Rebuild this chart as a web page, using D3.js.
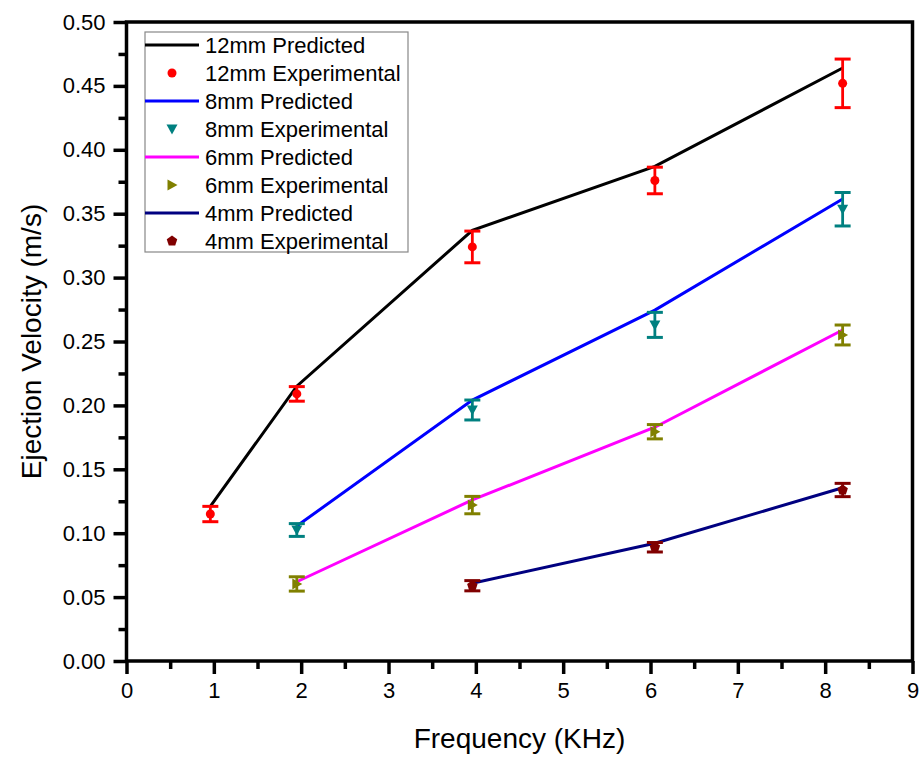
<!DOCTYPE html>
<html><head><meta charset="utf-8">
<script src="https://cdn.jsdelivr.net/npm/d3@7"></script>
<style>body{margin:0;background:#fff}svg{display:block}text{font-family:Arial,"Liberation Sans",sans-serif}</style>
</head><body>
<script>
// Data
const freq = [0.96, 1.95, 3.96, 6.05, 8.2];
const pred12 = [0.121, 0.215, 0.337, 0.387, 0.464];
const exp12 = [0.115, 0.209, 0.324, 0.376, 0.452];
const err12 = [0.006, 0.0057, 0.0124, 0.0104, 0.019];
const freq8 = [1.95, 3.96, 6.05, 8.2];
const pred8 = [0.1056, 0.2042, 0.2746, 0.3615];
const exp8 = [0.1025, 0.1964, 0.263, 0.3535];
const err8 = [0.005, 0.0078, 0.0098, 0.0131];
const freq6 = [1.95, 3.96, 6.05, 8.2];
const pred6 = [0.062, 0.126, 0.1829, 0.259];
const exp6 = [0.0603, 0.122, 0.1794, 0.2551];
const err6 = [0.0056, 0.0068, 0.0056, 0.0078];
const freq4 = [3.96, 6.05, 8.2];
const pred4 = [0.0608, 0.0921, 0.1356];
const exp4 = [0.0589, 0.089, 0.1338];
const err4 = [0.004, 0.0037, 0.0052];
const xTicks = [0,1,2,3,4,5,6,7,8,9];
const yTicks = [0,0.05,0.10,0.15,0.20,0.25,0.30,0.35,0.40,0.45,0.50];
const legendLabels = ["12mm Predicted","12mm Experimental","8mm Predicted","8mm Experimental","6mm Predicted","6mm Experimental","4mm Predicted","4mm Experimental"];

const W = 922, H = 759;
const L = 126.5, R = 912.5, T = 22, B = 661;
const svg = d3.select("body").append("svg").attr("width", W).attr("height", H);
const x = d3.scaleLinear().domain([0, 9]).range([L, R]);
const y = d3.scaleLinear().domain([0, 0.5]).range([B, T]);

const series = [
  {fx: freq, pred: pred12, exp: exp12, err: err12, lc: "#000000", mc: "#ff0000", sym: "circle"},
  {fx: freq8, pred: pred8, exp: exp8, err: err8, lc: "#0000ff", mc: "#008080", sym: "down"},
  {fx: freq6, pred: pred6, exp: exp6, err: err6, lc: "#ff00ff", mc: "#808000", sym: "right"},
  {fx: freq4, pred: pred4, exp: exp4, err: err4, lc: "#000080", mc: "#800000", sym: "pent"},
];

function marker(g, sym, cx, cy, c) {
  if (sym === "circle") {
    g.append("circle").attr("cx", cx).attr("cy", cy).attr("r", 4.5).attr("fill", c);
  } else if (sym === "down") {
    g.append("path").attr("d", `M${cx-5.5},${cy-4.5}L${cx+5.5},${cy-4.5}L${cx},${cy+5.5}Z`).attr("fill", c);
  } else if (sym === "right") {
    g.append("path").attr("d", `M${cx-4.5},${cy-5.5}L${cx+5.5},${cy}L${cx-4.5},${cy+5.5}Z`).attr("fill", c);
  } else {
    const pts = d3.range(5).map(i => {
      const a = -Math.PI/2 + i*2*Math.PI/5;
      return [cx + 5.5*Math.cos(a), cy + 5.5*Math.sin(a)];
    });
    g.append("path").attr("d", "M" + pts.map(p => p.join(",")).join("L") + "Z").attr("fill", c);
  }
}

const line = d3.line().x(d => x(d[0])).y(d => y(d[1]));
const plot = svg.append("g");
series.forEach(s => {
  plot.append("path").datum(s.fx.map((f, i) => [f, s.pred[i]]))
    .attr("d", line).attr("fill", "none").attr("stroke", s.lc).attr("stroke-width", 3);
});
series.forEach(s => {
  s.fx.forEach((f, i) => {
    const cx = x(f), y1 = y(s.exp[i] + s.err[i]), y2 = y(s.exp[i] - s.err[i]);
    const g = plot.append("g");
    g.append("line").attr("x1", cx).attr("x2", cx).attr("y1", y1).attr("y2", y2).attr("stroke", s.mc).attr("stroke-width", 2.8);
    g.append("line").attr("x1", cx-8).attr("x2", cx+8).attr("y1", y1).attr("y2", y1).attr("stroke", s.mc).attr("stroke-width", 3);
    g.append("line").attr("x1", cx-8).attr("x2", cx+8).attr("y1", y2).attr("y2", y2).attr("stroke", s.mc).attr("stroke-width", 3);
    marker(g, s.sym, cx, y(s.exp[i]), s.mc);
  });
});

// Axes
const xAx = svg.append("g").attr("transform", `translate(0,${B})`)
  .call(d3.axisBottom(x).tickValues(xTicks).tickFormat(d3.format("d")).tickSize(13).tickPadding(8));
const xMin = svg.append("g").attr("transform", `translate(0,${B})`)
  .call(d3.axisBottom(x).tickValues(d3.range(0.5, 9, 1)).tickSize(8).tickFormat(""));
const yAx = svg.append("g").attr("transform", `translate(${L},0)`)
  .call(d3.axisLeft(y).tickValues(yTicks).tickFormat(d3.format(".2f")).tickSize(13).tickPadding(8));
const yMin = svg.append("g").attr("transform", `translate(${L},0)`)
  .call(d3.axisLeft(y).tickValues(d3.range(0.025, 0.5, 0.05)).tickSize(8).tickFormat(""));
[xAx, xMin, yAx, yMin].forEach(a => {
  a.select(".domain").remove();
  a.selectAll(".tick line").attr("stroke", "#000").attr("stroke-width", 3.5);
  a.selectAll(".tick text").attr("font-size", 22).attr("fill", "#000").attr("font-family", "Arial, 'Liberation Sans', sans-serif");
});
// frame
svg.append("rect").attr("x", L).attr("y", T).attr("width", R - L).attr("height", B - T)
  .attr("fill", "none").attr("stroke", "#000").attr("stroke-width", 3.5);

svg.append("text").attr("x", (L + R) / 2).attr("y", 748).attr("text-anchor", "middle")
  .attr("font-size", 28).text("Frequency (KHz)");
svg.append("text").attr("transform", `translate(41,${(T + B) / 2}) rotate(-90)`).attr("text-anchor", "middle")
  .attr("font-size", 28).text("Ejection Velocity (m/s)");

// Legend
const lg = svg.append("g");
lg.append("rect").attr("x", 145).attr("y", 32).attr("width", 263).attr("height", 220)
  .attr("fill", "#fff").attr("stroke", "#888").attr("stroke-width", 1.2);
legendLabels.forEach((lab, i) => {
  const cy = 45 + i * 28;
  const s = series[Math.floor(i / 2)];
  if (i % 2 === 0) {
    lg.append("line").attr("x1", 145).attr("x2", 199).attr("y1", cy).attr("y2", cy).attr("stroke", s.lc).attr("stroke-width", 3);
  } else {
    marker(lg, s.sym, 172, cy, s.mc);
  }
  lg.append("text").attr("x", 205).attr("y", cy).attr("dy", "0.36em").attr("font-size", 22).text(lab);
});
</script>
</body></html>
